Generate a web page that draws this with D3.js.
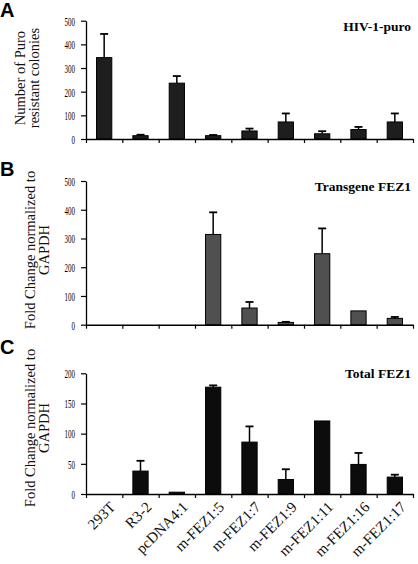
<!DOCTYPE html>
<html><head><meta charset="utf-8">
<script src="https://cdn.jsdelivr.net/npm/d3@7"></script>
<style>
body{margin:0;background:#fff;}
svg{display:block;}
</style></head>
<body>
<svg id="chart" width="418" height="564"></svg>
<script>
const categories = ["293T","R3-2","pcDNA4:1","m-FEZ1:5","m-FEZ1:7","m-FEZ1:9","m-FEZ1:11","m-FEZ1:16","m-FEZ1:17"];

const puroValues = [344, 14, 236, 14, 34, 72, 22, 40, 72];
const puroErrors = [100, 4, 30, 3, 10, 36, 11, 11, 36];
const puroTicks = [0, 100, 200, 300, 400, 500];

const transValues = [0, 0, 0, 314, 58, 8, 247, 48, 22];
const transErrors = [0, 0, 0, 77, 21, 2, 88, 0, 5];
const transTicks = [0, 100, 200, 300, 400, 500];

const totalValues = [0, 38, 3, 177, 86, 24, 121, 49, 28];
const totalErrors = [0, 17, 0, 3, 26, 17, 0, 19, 4];
const totalTicks = [0, 50, 100, 150, 200];

const svg = d3.select("#chart");
const serif = "'Liberation Serif','Times New Roman',serif";
const sans = "'Liberation Sans',Arial,sans-serif";

const x = d3.scaleBand().domain(categories).range([86, 413]).paddingInner(0.58).paddingOuter(0.29);

const panels = [
  {letter:"A", ly:17, title:"HIV-1-puro", ty:31, values:puroValues, errors:puroErrors, ticks:puroTicks,
   yTop:20.7, yBot:139, max:500, fill:"#1e1e1e", labels:["Number of Puro","resistant colonies"], lx:[20,34], lcy:78},
  {letter:"B", ly:176, title:"Transgene FEZ1", ty:191, values:transValues, errors:transErrors, ticks:transTicks,
   yTop:181, yBot:324.7, max:500, fill:"#505050", labels:["Fold Change normalized to","GAPDH"], lx:[30,44], lcy:250},
  {letter:"C", ly:354, title:"Total FEZ1", ty:378, values:totalValues, errors:totalErrors, ticks:totalTicks,
   yTop:373.3, yBot:494, max:200, fill:"#0c0c0c", labels:["Fold Change normalized to","GAPDH"], lx:[30,44], lcy:428}
];

panels.forEach((p, pi) => {
  const g = svg.append("g");
  const y = d3.scaleLinear().domain([0, p.max]).range([p.yBot, p.yTop]);

  g.append("text").attr("x", 0).attr("y", p.ly).text(p.letter)
    .attr("font-family", sans).attr("font-weight", "bold").attr("font-size", 20).attr("fill", "#000");

  g.append("text").attr("x", 411).attr("y", p.ty).attr("text-anchor", "end").text(p.title)
    .attr("font-family", serif).attr("font-weight", "bold").attr("font-size", 13.5).attr("fill", "#000");

  p.labels.forEach((t, i) => {
    g.append("text").attr("transform", `translate(${p.lx[i]},${p.lcy}) rotate(-90)`)
      .attr("text-anchor", "middle").attr("dy", "0.35em").text(t)
      .attr("font-family", serif).attr("font-size", 14.5).attr("fill", "#111");
  });

  const ya = g.append("g").attr("transform", "translate(86,0)")
    .call(d3.axisLeft(y).tickValues(p.ticks).tickSize(5).tickSizeOuter(0).tickPadding(6));
  ya.select(".domain").attr("stroke", "#000").attr("stroke-width", 1.3);
  ya.selectAll(".tick line").attr("stroke", "#000").attr("stroke-width", 1.2);
  ya.selectAll(".tick text").attr("font-family", serif).attr("font-size", 13.5).attr("fill", "#000")
    .each(function(){ const s = this.textContent; d3.select(this).attr("textLength", s.length * 3.5).attr("lengthAdjust", "spacingAndGlyphs"); });

  g.selectAll("rect.bar").data(categories.map((c, i) => ({c, v:p.values[i], e:p.errors[i]})))
    .join("rect").attr("class", "bar")
    .attr("x", d => x(d.c)).attr("width", x.bandwidth())
    .attr("y", d => y(d.v)).attr("height", d => y(0) - y(d.v))
    .attr("fill", p.fill).attr("stroke", d => d.v > 0 ? "#000" : "none").attr("stroke-width", 1);

  const eb = g.selectAll("g.err").data(categories.map((c, i) => ({c, v:p.values[i], e:p.errors[i]})).filter(d => d.e > 0))
    .join("g").attr("class", "err");
  eb.append("line").attr("x1", d => x(d.c) + x.bandwidth()/2).attr("x2", d => x(d.c) + x.bandwidth()/2)
    .attr("y1", d => y(d.v)).attr("y2", d => y(d.v + d.e)).attr("stroke", "#000").attr("stroke-width", 1.5);
  eb.append("line").attr("x1", d => x(d.c) + x.bandwidth()/2 - 4).attr("x2", d => x(d.c) + x.bandwidth()/2 + 4)
    .attr("y1", d => y(d.v + d.e)).attr("y2", d => y(d.v + d.e)).attr("stroke", "#000").attr("stroke-width", 1.8);

  const xb = d3.scaleLinear().domain([0, categories.length]).range(x.range());
  const xa = g.append("g").attr("transform", `translate(0,${p.yBot})`)
    .call(d3.axisBottom(xb).tickValues(d3.range(categories.length + 1)).tickSize(4).tickSizeOuter(0).tickFormat(""));
  xa.select(".domain").attr("stroke", "#000").attr("stroke-width", 1.5);
  xa.selectAll(".tick line").attr("stroke", "#000").attr("stroke-width", 1.2);

  if (pi === 2) {
    g.selectAll("text.cat").data(categories).join("text").attr("class", "cat")
      .attr("transform", d => `translate(${x(d) + x.bandwidth()/2 + 12},${p.yBot + 14}) rotate(-45)`)
      .attr("text-anchor", "end").text(d => d)
      .attr("font-family", serif).attr("font-size", 15).attr("fill", "#111");
  }
});
</script>
</body></html>
